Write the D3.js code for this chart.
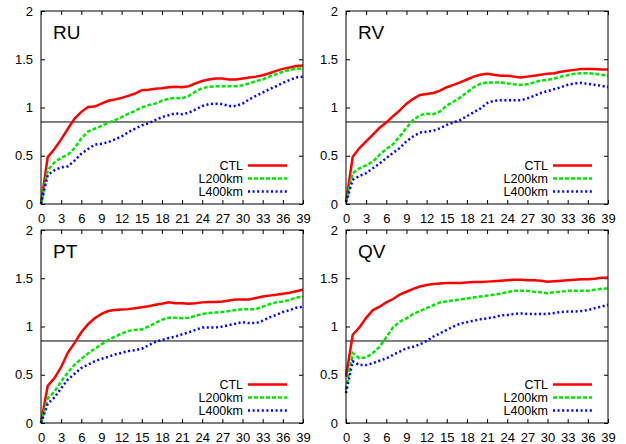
<!DOCTYPE html>
<html>
<head>
<meta charset="utf-8">
<script src="https://cdn.jsdelivr.net/npm/d3@7"></script>
<style>
  body { margin: 0; background: #fff; }
  svg text { font-family: "Liberation Sans", Arial, Helvetica, sans-serif; fill: #000; }
  .tick text { font-size: 13px; }
  .legend text { font-size: 12.5px; }
  .title { font-size: 19px; }
</style>
</head>
<body>
<div id="chart"></div>
<script>
// forecast hour index and tick labels
const steps = [0,1,2,3,4,5,6,7,8,9,10,11,12,13,14,15,16,17,18,19,20,21,22,23,24,25,26,27,28,29,30,31,32,33,34,35,36,37,38,39];
const xTicks = [0,3,6,9,12,15,18,21,24,27,30,33,36,39];
const yTicks = [0,0.5,1,1.5,2];
const refLevel = 0.85;
const seriesNames = ["CTL", "L200km", "L400km"];
const panelNames = ["RU", "RV", "PT", "QV"];

// RU
const ruCTL  = [0,0.486,0.57,0.67,0.78,0.885,0.955,1.005,1.01,1.04,1.07,1.083,1.1,1.12,1.145,1.18,1.185,1.195,1.2,1.21,1.215,1.21,1.22,1.25,1.275,1.29,1.3,1.3,1.29,1.29,1.3,1.31,1.32,1.335,1.355,1.38,1.4,1.415,1.43,1.435];
const ruL200 = [0,0.35,0.43,0.48,0.51,0.58,0.68,0.75,0.78,0.81,0.84,0.87,0.9,0.935,0.965,1.0,1.025,1.04,1.07,1.09,1.1,1.095,1.12,1.165,1.2,1.215,1.22,1.22,1.22,1.22,1.23,1.25,1.275,1.29,1.32,1.345,1.37,1.39,1.4,1.405];
const ruL400 = [0,0.3,0.35,0.38,0.39,0.45,0.52,0.57,0.615,0.625,0.64,0.67,0.7,0.745,0.78,0.815,0.835,0.87,0.9,0.92,0.94,0.93,0.945,0.98,1.015,1.035,1.04,1.035,1.015,1.015,1.04,1.085,1.12,1.155,1.19,1.22,1.255,1.285,1.31,1.32];
// RV
const rvCTL  = [0.02,0.49,0.58,0.65,0.72,0.79,0.845,0.91,0.97,1.04,1.09,1.13,1.14,1.15,1.175,1.21,1.235,1.26,1.29,1.32,1.34,1.35,1.34,1.33,1.33,1.32,1.31,1.32,1.33,1.34,1.35,1.355,1.37,1.38,1.39,1.4,1.4,1.4,1.395,1.395];
const rvL200 = [0.02,0.32,0.37,0.4,0.44,0.51,0.57,0.62,0.7,0.79,0.87,0.92,0.935,0.93,0.96,1.02,1.06,1.105,1.155,1.21,1.245,1.26,1.26,1.26,1.25,1.24,1.235,1.24,1.26,1.28,1.285,1.3,1.32,1.335,1.35,1.355,1.355,1.35,1.34,1.33];
const rvL400 = [0.02,0.25,0.29,0.32,0.37,0.42,0.475,0.53,0.58,0.65,0.7,0.74,0.75,0.76,0.785,0.82,0.845,0.87,0.91,0.95,0.99,1.045,1.07,1.075,1.075,1.075,1.075,1.095,1.12,1.15,1.17,1.19,1.21,1.235,1.25,1.255,1.245,1.235,1.225,1.21];
// PT
const ptCTL  = [0,0.385,0.465,0.58,0.73,0.83,0.94,1.025,1.085,1.13,1.16,1.17,1.175,1.18,1.19,1.2,1.21,1.225,1.235,1.25,1.24,1.24,1.235,1.24,1.25,1.255,1.255,1.26,1.27,1.28,1.28,1.28,1.295,1.31,1.32,1.33,1.34,1.35,1.365,1.38];
const ptL200 = [0,0.255,0.325,0.43,0.525,0.605,0.665,0.72,0.77,0.815,0.86,0.895,0.925,0.955,0.965,0.97,1.0,1.035,1.07,1.09,1.09,1.085,1.09,1.11,1.13,1.14,1.145,1.15,1.16,1.17,1.18,1.18,1.18,1.205,1.23,1.25,1.26,1.275,1.3,1.31];
const ptL400 = [0,0.2,0.265,0.36,0.45,0.51,0.57,0.605,0.64,0.665,0.685,0.71,0.727,0.745,0.755,0.77,0.805,0.84,0.86,0.88,0.895,0.92,0.94,0.965,0.99,0.99,0.99,1.0,1.015,1.03,1.045,1.035,1.035,1.06,1.095,1.12,1.15,1.17,1.195,1.205];
// QV
const qvCTL  = [0.48,0.915,0.99,1.09,1.17,1.205,1.25,1.285,1.33,1.36,1.39,1.415,1.43,1.44,1.445,1.45,1.45,1.45,1.455,1.46,1.46,1.465,1.47,1.475,1.48,1.485,1.485,1.48,1.48,1.475,1.465,1.47,1.475,1.48,1.485,1.49,1.49,1.495,1.505,1.505];
const qvL200 = [0.345,0.725,0.67,0.68,0.725,0.79,0.89,0.99,1.05,1.085,1.13,1.16,1.19,1.22,1.25,1.26,1.27,1.28,1.29,1.3,1.31,1.32,1.33,1.34,1.355,1.37,1.37,1.37,1.36,1.355,1.345,1.355,1.36,1.37,1.37,1.37,1.37,1.38,1.39,1.395];
const qvL400 = [0.31,0.64,0.6,0.6,0.62,0.645,0.67,0.705,0.74,0.775,0.79,0.815,0.85,0.895,0.93,0.965,1.0,1.03,1.045,1.06,1.075,1.085,1.095,1.115,1.12,1.13,1.135,1.13,1.13,1.13,1.13,1.14,1.15,1.155,1.155,1.16,1.17,1.19,1.205,1.225];

const panelData = [
  [ruCTL, ruL200, ruL400],
  [rvCTL, rvL200, rvL400],
  [ptCTL, ptL200, ptL400],
  [qvCTL, qvL200, qvL400]
];

// styles per series
const styles = [
  { color: "#ff0000", dash: null },
  { color: "#00e600", dash: "4,2" },
  { color: "#0000ff", dash: "2,2.6" }
];

const width = 626, height = 444;
const plotW = 262, plotH = 193;
const origins = [[41, 11], [346, 11], [41, 230], [346, 230]];
const tickLen = 4;

const svg = d3.select("#chart").append("svg")
  .attr("width", width)
  .attr("height", height);

const x = d3.scaleLinear().domain([0, 39]).range([0, plotW]);
const y = d3.scaleLinear().domain([0, 2]).range([plotH, 0]);

panelNames.forEach((name, p) => {
  let g = svg.append("g")
    .attr("transform", "translate(" + origins[p][0] + "," + origins[p][1] + ")");

  // bottom axis with inward ticks
  let xAxis = d3.axisBottom(x).tickValues(xTicks).tickSizeInner(-tickLen).tickSizeOuter(0).tickPadding(8);
  let gx = g.append("g").attr("transform", "translate(0," + plotH + ")").call(xAxis);
  // mirror ticks on top
  g.append("g").call(d3.axisTop(x).tickValues(xTicks).tickSizeInner(-tickLen).tickSizeOuter(0).tickFormat(""));

  let yAxis = d3.axisLeft(y).tickValues(yTicks).tickSizeInner(-tickLen).tickSizeOuter(0).tickPadding(8)
    .tickFormat(d3.format("~g"));
  g.append("g").call(yAxis);
  g.append("g").attr("transform", "translate(" + plotW + ",0)")
    .call(d3.axisRight(y).tickValues(yTicks).tickSizeInner(-tickLen).tickSizeOuter(0).tickFormat(""));

  g.selectAll(".domain").remove();
  g.selectAll(".tick line").attr("stroke", "#000");
  gx.selectAll("text").attr("dy", "0.85em");

  // reference line
  g.append("line")
    .attr("x1", 0).attr("x2", plotW)
    .attr("y1", y(refLevel)).attr("y2", y(refLevel))
    .attr("stroke", "#000").attr("stroke-width", 1);

  // series lines
  let line = d3.line()
    .x((d, i) => x(steps[i]))
    .y(d => y(d));

  panelData[p].forEach((vals, s) => {
    g.append("path")
      .datum(vals)
      .attr("fill", "none")
      .attr("stroke", styles[s].color)
      .attr("stroke-width", 2.5)
      .attr("stroke-dasharray", styles[s].dash)
      .attr("d", line);
  });

  // frame
  g.append("rect")
    .attr("width", plotW).attr("height", plotH)
    .attr("fill", "none").attr("stroke", "#000").attr("stroke-width", 1);

  // title
  g.append("text")
    .attr("class", "title")
    .attr("x", 12).attr("y", 28)
    .text(name);

  // legend
  let legend = g.append("g").attr("class", "legend").attr("transform", "translate(0,154.5)");
  seriesNames.forEach((sn, s) => {
    let row = legend.append("g").attr("transform", "translate(0," + (s * 13) + ")");
    row.append("text")
      .attr("x", 202).attr("y", 0).attr("dy", "0.35em")
      .attr("text-anchor", "end")
      .text(sn);
    row.append("line")
      .attr("x1", 207).attr("x2", 246)
      .attr("stroke", styles[s].color)
      .attr("stroke-width", 2.5)
      .attr("stroke-dasharray", styles[s].dash);
  });
});
</script>
</body>
</html>
